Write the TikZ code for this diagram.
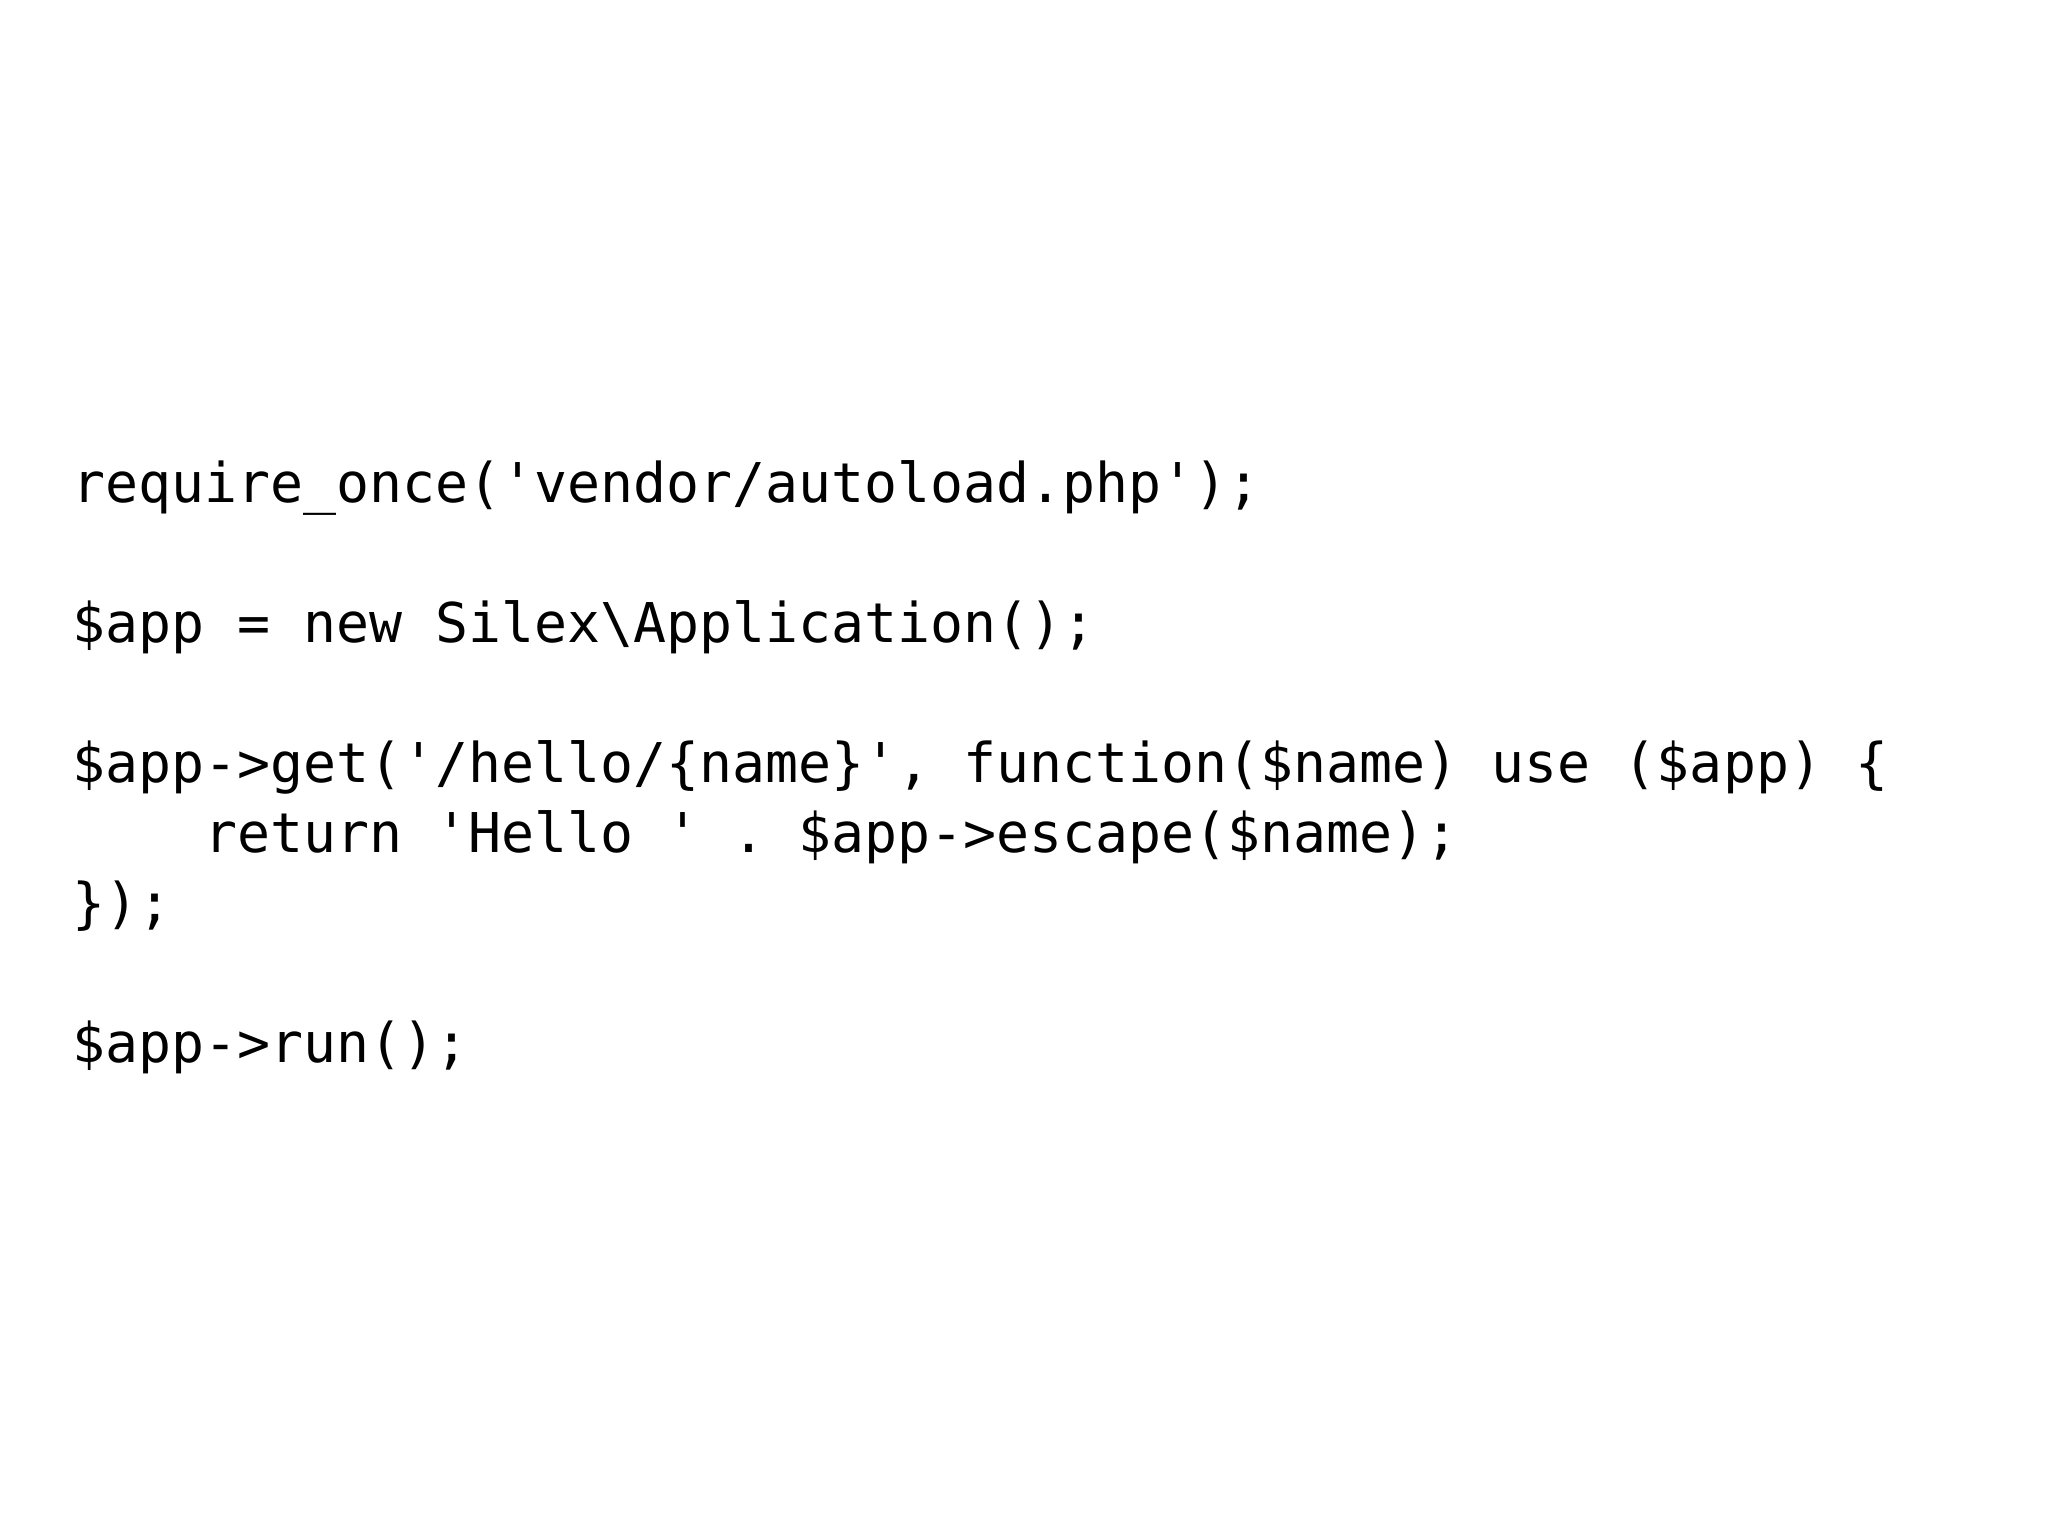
\documentclass[tikz,border=0pt]{standalone}
\usepackage{fontspec}
\setmonofont{DejaVu Sans Mono}
\begin{document}
\begin{tikzpicture}[code/.style={anchor=base west,inner sep=0pt,font=\ttfamily\fontsize{15.6pt}{18pt}\selectfont}]
\useasboundingbox (0,0) rectangle (20.48,15.36);
\node[code] (l1) at (0.72,10.33) {require\_once('vendor/autoload.php');};
\node[code] (l2) at (0.72,8.93) {\$app = new Silex\textbackslash Application();};
\node[code] (l3) at (0.72,7.53) {\$app->get('/hello/\{name\}', function(\$name) use (\$app) \{};
\node[code] (l4) at (2.04,6.83) {return 'Hello ' . \$app->escape(\$name);};
\node[code] (l5) at (0.72,6.13) {\});};
\node[code] (l6) at (0.72,4.73) {\$app->run();};
\end{tikzpicture}
\end{document}
